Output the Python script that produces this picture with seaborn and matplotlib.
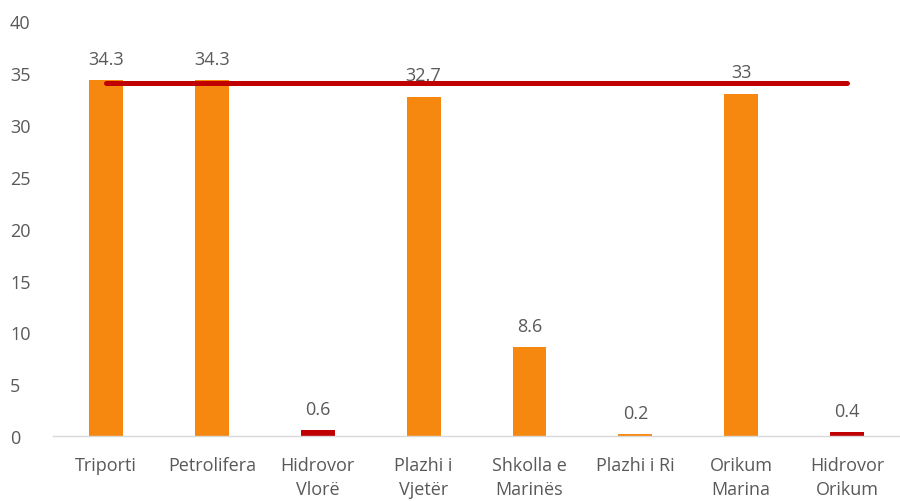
import matplotlib
matplotlib.use("Agg")
import matplotlib.pyplot as plt
import seaborn as sns
import pandas as pd

categories = ["Triporti", "Petrolifera", "Hidrovor\nVlorë", "Plazhi i\nVjetër",
              "Shkolla e\nMarinës", "Plazhi i Ri", "Orikum\nMarina", "Hidrovor\nOrikum"]
values = [34.3, 34.3, 0.6, 32.7, 8.6, 0.2, 33, 0.4]
bar_colors = ["#F6870F", "#F6870F", "#C00000", "#F6870F",
              "#F6870F", "#F6870F", "#F6870F", "#C00000"]
limit_value = 34
y_ticks = [0, 5, 10, 15, 20, 25, 30, 35, 40]

sns.set_theme(style="white")
plt.rcParams["font.family"] = ["Open Sans", "DejaVu Sans"]

df = pd.DataFrame({"site": categories, "value": values})

fig = plt.figure(figsize=(9, 5.02), dpi=100)
ax = fig.add_axes([0.059, 0.129, 0.941, 0.827])

sns.barplot(data=df, x="site", y="value", hue="site", palette=bar_colors,
            width=0.32, legend=False, ax=ax, saturation=1, linewidth=0)

ax.plot([0, len(categories) - 1], [limit_value, limit_value],
        color="#C00000", lw=3.6, solid_capstyle="round", zorder=3)

for i, v in enumerate(values):
    ax.text(i, v + 1.2, f"{v:g}", ha="center", va="bottom",
            fontsize=13, color="#595959")

ax.set_ylim(0, 40)
ax.set_xlim(-0.5, len(categories) - 0.5)
ax.set_yticks(y_ticks)
ax.set_xlabel("")
ax.set_ylabel("")
ax.tick_params(axis="both", colors="#595959", labelsize=13, length=0)
ax.tick_params(axis="x", pad=14)
ax.tick_params(axis="y", pad=31)
for lbl in ax.get_yticklabels():
    lbl.set_horizontalalignment("left")
for lbl in ax.get_xticklabels():
    lbl.set_linespacing(1.45)
for side in ["top", "right", "left"]:
    ax.spines[side].set_visible(False)
ax.spines["bottom"].set_color("#D9D9D9")
ax.spines["bottom"].set_linewidth(1.0)

fig.savefig("out.png", dpi=100)
